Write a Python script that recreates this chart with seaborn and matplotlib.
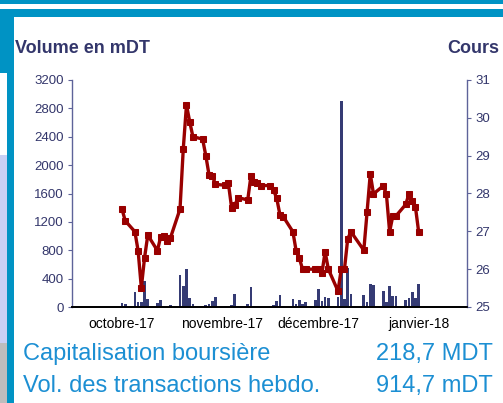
import seaborn as sns
import matplotlib.pyplot as plt
from matplotlib.patches import Rectangle
import pandas as pd
import numpy as np

# Usage
# jours de bourse, comptes depuis le premier jour affiche (jeudi)
jours = [0, 1,
         4, 5, 6, 7, 8,
         11, 12, 13, 14, 15,
         18, 19, 20, 21, 22,
         25, 26, 27, 28, 29,
         32, 33, 34, 35, 36,
         39, 40, 41, 42, 43,
         46, 47, 48, 49, 50,
         53, 54, 55, 56, 57,
         60, 61, 62, 63, 64,
         67, 68, 69, 70, 71,
         75, 76, 77, 78,
         81, 82, 83, 84, 85,
         88, 89, 90, 91, 92]

# volume journalier en mDT
volume = [56, 42,
          216, 75, 75, 361, 117,
          56, 103, 5, 19, 30,
          455, 300, 540, 127, 42,
          9, 23, 47, 80, 145,
          19, 9, 23, 188, 9,
          42, 286, 19, 19, 0,
          14, 33, 80, 169, 19,
          117, 47, 103, 42, 75,
          94, 258, 89, 136, 122,
          135, 2905, 110, 549, 180,
          174, 66, 329, 314,
          221, 70, 300, 150, 160,
          103, 127, 211, 127, 329]

# cours de cloture en DT
cours = [27.59, 27.28,
         26.99, 26.49, 25.51, 26.30, 26.90,
         26.49, 26.86, 26.88, 26.75, 26.82,
         27.59, 29.17, 30.34, 29.90, 29.50,
         29.44, 29.00, 28.49, 28.47, 28.24,
         28.22, 28.27, 27.62, 27.69, 27.89,
         27.83, 28.47, 28.30, 28.27, 28.21,
         28.21, 28.09, 27.87, 27.43, 27.39,
         26.99, 26.49, 26.29, 26.00, 26.00,
         26.00, 26.00, 25.89, 26.46, 26.00,
         25.42, 26.00, 26.00, 26.80, 26.99,
         26.50, 27.50, 28.52, 27.99,
         28.20, 27.99, 26.99, 27.41, 27.41,
         27.71, 27.99, 27.81, 27.65, 26.99]

# position des etiquettes de mois sur l'axe des jours
mois_pos = [0, 31, 61, 92]
mois_labels = ['octobre-17', 'novembre-17', 'décembre-17', 'janvier-18']

volume_ticks = list(range(0, 3201, 400))
cours_ticks = [25, 26, 27, 28, 29, 30, 31]

# Define the colors
bar_color = '#353B74'
line_color = '#990000'
axis_color = '#5E6399'
title_color = '#33366B'
info_color = '#1C8FD3'
frame_blue = '#0093C4'

sns.set_style('white')
plt.rcParams['font.family'] = ['Liberation Sans', 'DejaVu Sans']

W, H = 503, 403


def px_rect(fig, x0, y0, x1, y1, color):
    # rectangle in pixel coords (origin top left)
    fig.add_artist(Rectangle((x0 / W, 1 - y1 / H), (x1 - x0) / W, (y1 - y0) / H,
                             transform=fig.transFigure, color=color, lw=0, zorder=0))


def plot_volume_and_price(jours, volume, cours):
    data = pd.DataFrame({'jour': jours, 'volume': volume, 'cours': cours})

    fig = plt.figure(figsize=(W / 100, H / 100), dpi=100)

    # frame around the chart
    px_rect(fig, 0, 0, W, 4, frame_blue)
    px_rect(fig, 0, 9, W, 17, frame_blue)
    px_rect(fig, 7, 9, 14, H, frame_blue)
    px_rect(fig, 0, 9, 7, 73, frame_blue)
    px_rect(fig, 0, 155, 7, 343, '#C9D0F5')
    px_rect(fig, 0, 343, 7, H, '#BDBDBD')

    ax = fig.add_axes([72 / W, 1 - 307 / H, (467 - 72) / W, (307 - 80) / H])
    ax.patch.set_alpha(0)
    sns.barplot(data=data, x='jour', y='volume', native_scale=True, color=bar_color,
                saturation=1, width=0.85, errorbar=None, linewidth=0, ax=ax)
    ax.set_ylim(0, 3200)
    ax.set_yticks(volume_ticks)
    ax.set_xlim(-15.5, 107)
    ax.set_xticks(mois_pos)
    ax.set_xticklabels(mois_labels, fontsize=10, color='black')
    ax.set_xlabel('')
    ax.set_ylabel('')
    ax.tick_params(axis='x', length=0, pad=7)
    ax.tick_params(axis='y', length=3, width=0.8, color=axis_color, labelcolor=title_color,
                   labelsize=9.5, pad=3, left=True)

    ax2 = ax.twinx()
    sns.lineplot(data=data, x='jour', y='cours', color=line_color, linewidth=2.4,
                 marker='s', markersize=4.2, markeredgecolor=line_color, ax=ax2)
    ax2.set_ylim(25, 31)
    ax2.set_yticks(cours_ticks)
    ax2.set_ylabel('')
    ax2.tick_params(axis='y', length=3, width=0.8, color=axis_color, labelcolor=title_color,
                    labelsize=9.5, pad=3, right=True)

    for a in (ax, ax2):
        a.spines['top'].set_visible(False)
        a.spines['bottom'].set_color('black')
        a.spines['bottom'].set_linewidth(1.3)
    ax.spines['right'].set_visible(False)
    ax.spines['left'].set_color(axis_color)
    ax2.spines['left'].set_visible(False)
    ax2.spines['right'].set_color(axis_color)
    ax2.spines['right'].set_linewidth(1.0)
    ax.spines['left'].set_linewidth(1.0)

    # titles of the axes
    fig.text(15 / W, 1 - 53 / H, 'Volume en mDT', fontsize=13, fontweight='bold',
             color=title_color, va='baseline', ha='left')
    fig.text(447 / W, 1 - 53 / H, 'Cours', fontsize=13, fontweight='bold',
             color=title_color, va='baseline', ha='left')

    # key figures under the chart
    fig.text(23 / W, 1 - 360 / H, 'Capitalisation boursière', fontsize=17,
             color=info_color, va='baseline', ha='left')
    fig.text(493 / W, 1 - 360 / H, '218,7 MDT', fontsize=17,
             color=info_color, va='baseline', ha='right')
    fig.text(23 / W, 1 - 392 / H, 'Vol. des transactions hebdo.', fontsize=17,
             color=info_color, va='baseline', ha='left')
    fig.text(493 / W, 1 - 392 / H, '914,7 mDT', fontsize=17,
             color=info_color, va='baseline', ha='right')

    plt.savefig('out.png', dpi=100)


plot_volume_and_price(jours, volume, cours)
